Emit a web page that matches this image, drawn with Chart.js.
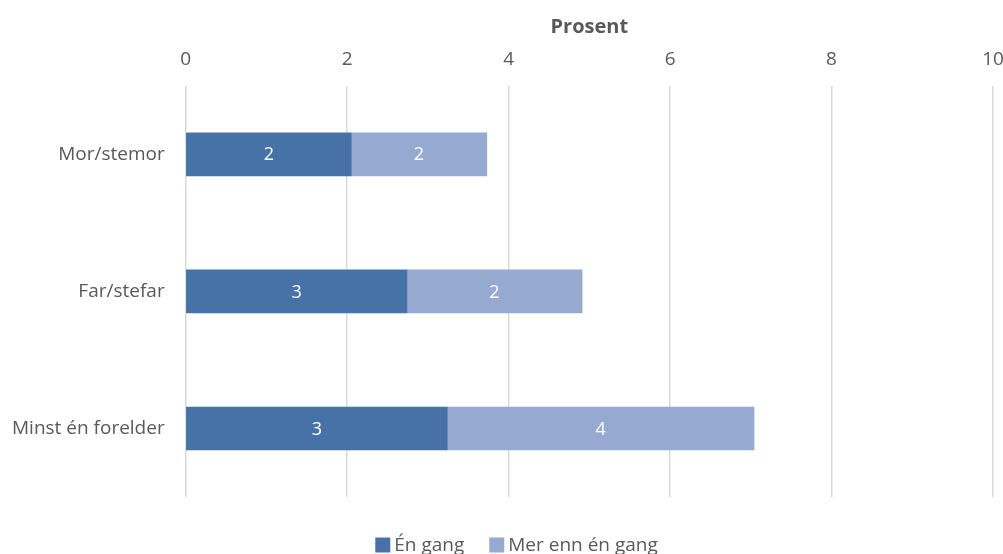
<!DOCTYPE html>
<html><head><meta charset="utf-8">
<script src="https://cdn.jsdelivr.net/npm/chart.js@4/dist/chart.umd.min.js"></script>
<style>html,body{margin:0;padding:0;background:#fff}#w{width:1003px;height:554px}</style>
</head><body><div id="w"><canvas id="c"></canvas></div>
<script>
const categories = ["Mor/stemor", "Far/stefar", "Minst én forelder"];
const seriesNames = ["Én gang", "Mer enn én gang"];
const enGang = [2.05, 2.74, 3.24];
const merEnnEnGang = [1.68, 2.17, 3.80];
const xTicks = [0, 2, 4, 6, 8, 10];
const colors = ["#4672A8", "#95A9D1"];
const FONT = "'Open Sans', sans-serif";
const TXT = "#595959";

const valueLabels = {
  id: "valueLabels",
  afterDatasetsDraw(chart) {
    const ctx = chart.ctx;
    ctx.save();
    ctx.fillStyle = "#ffffff";
    ctx.font = "18px " + FONT;
    ctx.textAlign = "center";
    ctx.textBaseline = "middle";
    chart.data.datasets.forEach((ds, i) => {
      chart.getDatasetMeta(i).data.forEach((bar, j) => {
        const p = bar.getProps(["x", "base", "y"], true);
        ctx.fillText(String(Math.round(ds.data[j])), (p.x + p.base) / 2, p.y + 1);
      });
    });
    ctx.restore();
  }
};

const bottomLegend = {
  id: "bottomLegend",
  afterDraw(chart) {
    const ctx = chart.ctx;
    ctx.save();
    ctx.font = "19px " + FONT;
    ctx.textBaseline = "middle";
    const box = 15, gap = 4, itemGap = 25;
    const items = chart.data.datasets.map(ds => ({ text: ds.label, color: ds.backgroundColor, w: ctx.measureText(ds.label).width }));
    const total = items.reduce((s, it) => s + box + gap + it.w, 0) + itemGap * (items.length - 1);
    let x = chart.width / 2 + 15 - total / 2;
    const y = chart.height - 9;
    items.forEach(it => {
      ctx.fillStyle = it.color;
      ctx.fillRect(x, y - box / 2, box, box);
      x += box + gap;
      ctx.fillStyle = TXT;
      ctx.fillText(it.text, x, y + 1);
      x += it.w + itemGap;
    });
    ctx.restore();
  }
};

new Chart(document.getElementById("c"), {
  type: "bar",
  data: {
    labels: categories,
    datasets: [
      { label: seriesNames[0], data: enGang, backgroundColor: colors[0], barThickness: 43 },
      { label: seriesNames[1], data: merEnnEnGang, backgroundColor: colors[1], barThickness: 43 }
    ]
  },
  options: {
    indexAxis: "y",
    responsive: true,
    maintainAspectRatio: false,
    animation: false,
    layout: { padding: { left: -1, right: 0, top: 15, bottom: 0 } },
    scales: {
      x: {
        position: "top",
        stacked: true,
        min: 0, max: 10,
        afterBuildTicks(axis) { axis.ticks = xTicks.map(v => ({ value: v })); },
        afterFit(scale) { scale.paddingRight = 10; scale.paddingLeft = 0; },
        ticks: { color: TXT, font: { family: FONT, size: 19 }, padding: 15 },
        grid: { color: "#D9D9D9", lineWidth: 1.5, drawTicks: false },
        border: { display: false },
        title: { display: true, text: "Prosent", color: TXT, font: { family: FONT, size: 20, weight: "bold" }, padding: { top: 0, bottom: -6 } }
      },
      spacer: {
        type: "linear",
        axis: "x",
        position: "bottom",
        display: true,
        grid: { display: false, drawTicks: false },
        border: { display: false },
        ticks: { display: false },
        afterFit(scale) { scale.height = 57; scale.paddingRight = 0; scale.paddingLeft = 0; }
      },
      y: {
        stacked: true,
        ticks: { color: TXT, font: { family: FONT, size: 19 }, padding: 13 },
        grid: { display: false },
        border: { display: false }
      }
    },
    plugins: {
      legend: { display: false },
      tooltip: { enabled: false }
    }
  },
  plugins: [valueLabels, bottomLegend]
});
</script></body></html>
